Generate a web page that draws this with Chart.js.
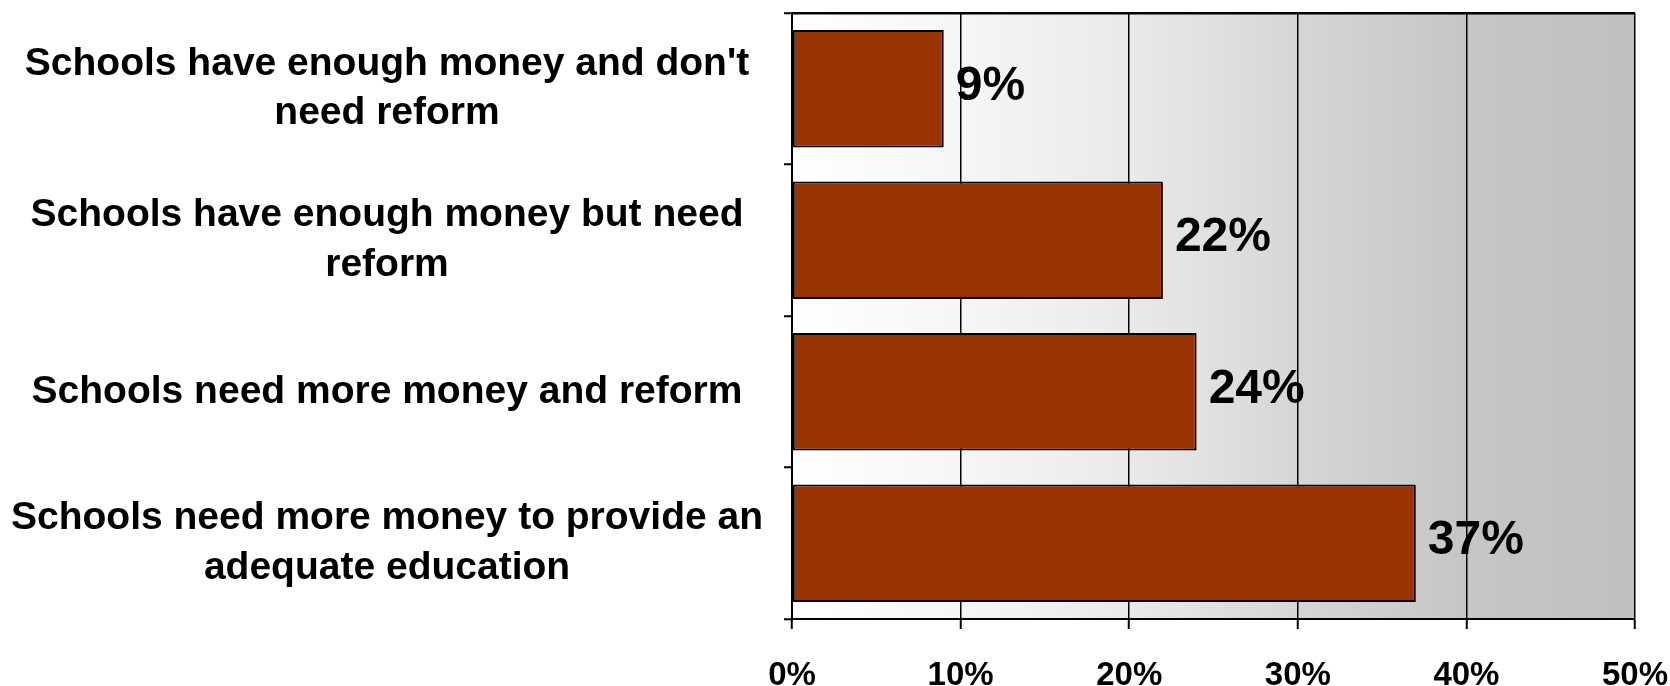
<!DOCTYPE html>
<html>
<head>
<meta charset="utf-8">
<script src="https://cdn.jsdelivr.net/npm/chart.js@4"></script>
<style>
  body { margin: 0; background: #fff; }
  #wrap { width: 1670px; height: 686px; }
</style>
</head>
<body>
<div id="wrap"><canvas id="myChart" width="1670" height="686"></canvas></div>
<script>
// Antwortkategorien (mehrzeilig wie im Original)
const categories = [
    ["Schools have enough money and don't", 'need reform'],
    ['Schools have enough money but need', 'reform'],
    ['Schools need more money and reform'],
    ['Schools need more money to provide an', 'adequate education']
];

// Anteile in Prozent
const shares = [9, 22, 24, 37];

// Achsenbereich der x-Achse
const xMin = 0;
const xMax = 50;
const xStep = 10;

const fontFamily = '"Liberation Sans", Arial, sans-serif';

// Hintergrund mit Verlauf im Diagrammbereich
const gradientBackground = {
    id: 'gradientBackground',
    beforeDraw(chart) {
        const { ctx, chartArea } = chart;
        const g = ctx.createLinearGradient(chartArea.left, 0, chartArea.right, 0);
        g.addColorStop(0, '#ffffff');
        g.addColorStop(0.2, '#f6f6f6');
        g.addColorStop(0.4, '#eaeaea');
        g.addColorStop(0.6, '#d6d6d6');
        g.addColorStop(0.8, '#c6c6c6');
        g.addColorStop(1, '#c0c0c0');
        ctx.save();
        ctx.fillStyle = g;
        ctx.fillRect(chartArea.left, chartArea.top, chartArea.right - chartArea.left, chartArea.bottom - chartArea.top);
        ctx.restore();
    }
};

// Prozentwerte rechts neben den Balken
const valueLabels = {
    id: 'valueLabels',
    afterDatasetsDraw(chart) {
        const { ctx } = chart;
        const meta = chart.getDatasetMeta(0);
        ctx.save();
        ctx.font = 'bold 48px ' + fontFamily;
        ctx.fillStyle = '#000';
        ctx.textAlign = 'left';
        ctx.textBaseline = 'middle';
        meta.data.forEach((bar, i) => {
            ctx.fillText(shares[i] + '%', bar.x + 12, bar.y - 2);
        });
        ctx.restore();
    }
};

const ctx = document.getElementById('myChart').getContext('2d');

new Chart(ctx, {
    type: 'bar',
    data: {
        labels: categories,
        datasets: [{
            data: shares,
            backgroundColor: '#993300',
            borderColor: '#000000',
            borderWidth: 2,
            borderSkipped: false,
            categoryPercentage: 1,
            barPercentage: 0.775
        }]
    },
    options: {
        indexAxis: 'y',
        responsive: false,
        animation: false,
        layout: {
            padding: { left: 0, top: 13, right: 35, bottom: 0 }
        },
        plugins: {
            legend: { display: false },
            tooltip: { enabled: false }
        },
        scales: {
            x: {
                min: xMin,
                max: xMax,
                ticks: {
                    stepSize: xStep,
                    color: '#000',
                    padding: 27,
                    font: { family: fontFamily, size: 33, weight: 'bold' },
                    callback: value => value + '%'
                },
                grid: {
                    color: '#000',
                    lineWidth: 1.5,
                    tickLength: 10,
                    tickColor: '#000',
                    tickWidth: 2
                },
                border: { display: true, color: '#000', width: 2 },
                afterFit: scale => {
                    scale.height = 67;
                    scale.paddingLeft = 0;
                    scale.paddingRight = 0;
                }
            },
            y: {
                offset: true,
                ticks: {
                    color: '#000',
                    crossAlign: 'center',
                    padding: 21,
                    font: { family: fontFamily, size: 39, weight: 'bold', lineHeight: 1.26 }
                },
                grid: {
                    offset: true,
                    drawOnChartArea: true,
                    color: c => (c.index === 0 ? '#000' : 'rgba(0,0,0,0)'),
                    lineWidth: 2.5,
                    tickLength: 8,
                    tickColor: '#000',
                    tickWidth: 2
                },
                border: { display: true, color: '#000', width: 2 },
                afterFit: scale => {
                    scale.width = 792;
                    scale.paddingTop = 0;
                    scale.paddingBottom = 0;
                }
            }
        }
    },
    plugins: [gradientBackground, valueLabels]
});
</script>
</body>
</html>
